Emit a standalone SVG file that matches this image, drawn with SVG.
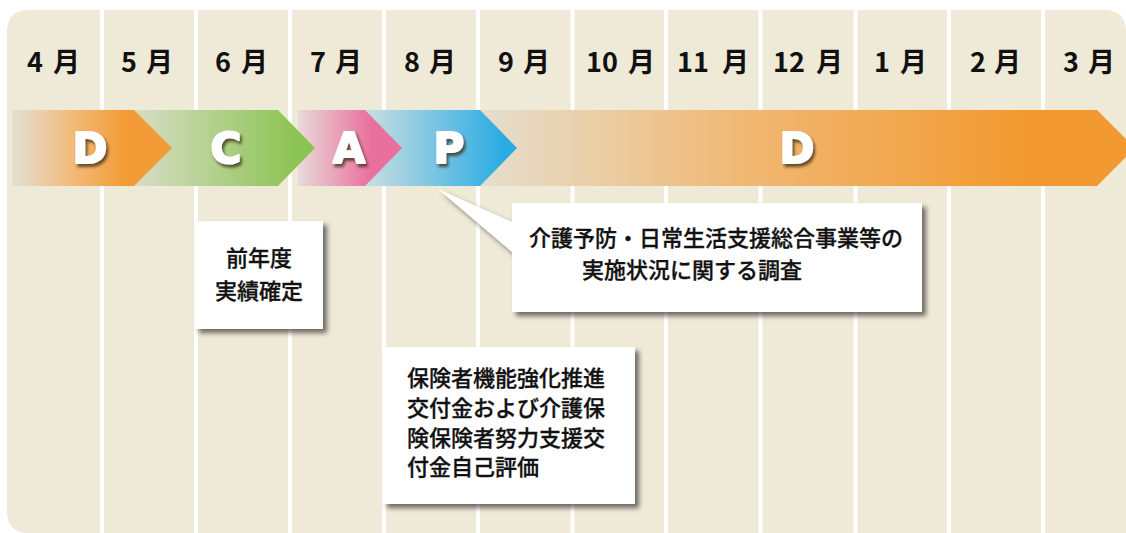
<svg xmlns="http://www.w3.org/2000/svg" width="1126" height="533" viewBox="0 0 1126 533">
<style>
.sep{stroke:#ffffff;stroke-width:4}
.mon{font-family:"Noto Sans CJK JP","Noto Sans",sans-serif;font-size:27px;font-weight:bold;fill:#111}
.let{font-family:"DejaVu Sans","Noto Sans",sans-serif;font-size:42px;font-weight:bold;fill:#ffffff;stroke:#ffffff;stroke-width:2;stroke-linejoin:round;text-anchor:middle}
.box{fill:#ffffff}
.txt{font-family:"Noto Sans CJK JP","Noto Sans",sans-serif;font-size:22px;font-weight:500;fill:#111;stroke:#111;stroke-width:0.3}
</style>
<defs>
<linearGradient id="gD1" gradientUnits="userSpaceOnUse" x1="12" y1="0" x2="125" y2="0">
<stop offset="0" stop-color="#e3e0d5"/><stop offset="0.5" stop-color="#f1bd7e"/><stop offset="1" stop-color="#f39b36"/>
</linearGradient>
<linearGradient id="gC" gradientUnits="userSpaceOnUse" x1="134" y1="0" x2="295" y2="0">
<stop offset="0" stop-color="#d8ddc6"/><stop offset="1" stop-color="#8cc453"/>
</linearGradient>
<linearGradient id="gA" gradientUnits="userSpaceOnUse" x1="298" y1="0" x2="372" y2="0">
<stop offset="0" stop-color="#e9dad9"/><stop offset="1" stop-color="#e96f9c"/>
</linearGradient>
<linearGradient id="gP" gradientUnits="userSpaceOnUse" x1="365" y1="0" x2="505" y2="0">
<stop offset="0" stop-color="#c9dfe1"/><stop offset="1" stop-color="#29abe3"/>
</linearGradient>
<linearGradient id="gD2" gradientUnits="userSpaceOnUse" x1="480" y1="0" x2="1020" y2="0">
<stop offset="0" stop-color="#e5dfce"/><stop offset="0.48" stop-color="#f0b874"/><stop offset="1" stop-color="#f29a31"/>
</linearGradient>
<filter id="ls" x="-30%" y="-30%" width="170%" height="170%">
<feDropShadow dx="2" dy="3" stdDeviation="1.5" flood-color="#3a2818" flood-opacity="0.75"/>
</filter>
<filter id="bs" x="-10%" y="-10%" width="125%" height="130%">
<feDropShadow dx="4" dy="4" stdDeviation="2.5" flood-color="#000000" flood-opacity="0.55"/>
</filter>
</defs>

<g id="background">
<path d="M7,32 Q7,10 29,10 L1104,10 Q1126,10 1126,32 L1126,533 L29,533 Q7,533 7,511 Z" fill="#efe9d7"/>
<line class="sep" x1="102" y1="10" x2="102" y2="533"/>
<line class="sep" x1="196" y1="10" x2="196" y2="533"/>
<line class="sep" x1="290" y1="10" x2="290" y2="533"/>
<line class="sep" x1="384" y1="10" x2="384" y2="533"/>
<line class="sep" x1="478" y1="10" x2="478" y2="533"/>
<line class="sep" x1="572.5" y1="10" x2="572.5" y2="533"/>
<line class="sep" x1="666" y1="10" x2="666" y2="533"/>
<line class="sep" x1="760.5" y1="10" x2="760.5" y2="533"/>
<line class="sep" x1="855.5" y1="10" x2="855.5" y2="533"/>
<line class="sep" x1="949" y1="10" x2="949" y2="533"/>
<line class="sep" x1="1043" y1="10" x2="1043" y2="533"/>
</g>

<g id="months">
<text class="mon" y="72"><tspan x="27">4</tspan><tspan x="53">月</tspan></text>
<text class="mon" y="72"><tspan x="121">5</tspan><tspan x="146">月</tspan></text>
<text class="mon" y="72"><tspan x="215">6</tspan><tspan x="241">月</tspan></text>
<text class="mon" y="72"><tspan x="310">7</tspan><tspan x="335">月</tspan></text>
<text class="mon" y="72"><tspan x="404">8</tspan><tspan x="429">月</tspan></text>
<text class="mon" y="72"><tspan x="498">9</tspan><tspan x="523">月</tspan></text>
<text class="mon" y="72"><tspan x="586">10</tspan><tspan x="628">月</tspan></text>
<text class="mon" y="72"><tspan x="677">11</tspan><tspan x="722">月</tspan></text>
<text class="mon" y="72"><tspan x="773">12</tspan><tspan x="816">月</tspan></text>
<text class="mon" y="72"><tspan x="874">1</tspan><tspan x="900">月</tspan></text>
<text class="mon" y="72"><tspan x="970">2</tspan><tspan x="994">月</tspan></text>
<text class="mon" y="72"><tspan x="1063">3</tspan><tspan x="1088">月</tspan></text>
</g>

<g id="phases">
<g id="phase-D2">
<polygon points="480,110 1097,110 1135,148 1097,186 480,186" fill="url(#gD2)"/>
<text class="let" x="797" y="163" filter="url(#ls)">D</text>
</g>
<g id="phase-P">
<polygon points="365,110 480,110 517,148 480,186 365,186" fill="url(#gP)"/>
<text class="let" x="449" y="163" filter="url(#ls)">P</text>
</g>
<g id="phase-A">
<polygon points="298,110 365,110 402,148 365,186 298,186" fill="url(#gA)"/>
<text class="let" x="349" y="163" filter="url(#ls)">A</text>
</g>
<g id="phase-C">
<polygon points="134,110 278,110 315,148 278,186 134,186" fill="url(#gC)"/>
<text class="let" x="226" y="163" filter="url(#ls)">C</text>
</g>
<g id="phase-D1">
<polygon points="12,110 134,110 172,148 134,186 12,186" fill="url(#gD1)"/>
<text class="let" x="90" y="163" filter="url(#ls)">D</text>
</g>
</g>

<g id="box-kakutei">
<rect class="box" x="195" y="221" width="128" height="108" filter="url(#bs)"/>
<text class="txt" text-anchor="middle"><tspan x="259" y="266">前年度</tspan><tspan x="259" y="299">実績確定</tspan></text>
</g>

<g id="box-chousa">
<path class="box" d="M438,189 L512,222 L512,203 L922,203 L922,312 L512,312 L512,252 Z" filter="url(#bs)"/>
<text class="txt"><tspan x="529" y="246">介護予防・日常生活支援総合事業等の</tspan><tspan x="582" y="278">実施状況に関する調査</tspan></text>
</g>

<g id="box-jikohyouka">
<rect class="box" x="383" y="347" width="252" height="157" filter="url(#bs)"/>
<text class="txt"><tspan x="407" y="386">保険者機能強化推進</tspan><tspan x="407" y="416">交付金および介護保</tspan><tspan x="407" y="445.5">険保険者努力支援交</tspan><tspan x="407" y="475">付金自己評価</tspan></text>
</g>
</svg>
